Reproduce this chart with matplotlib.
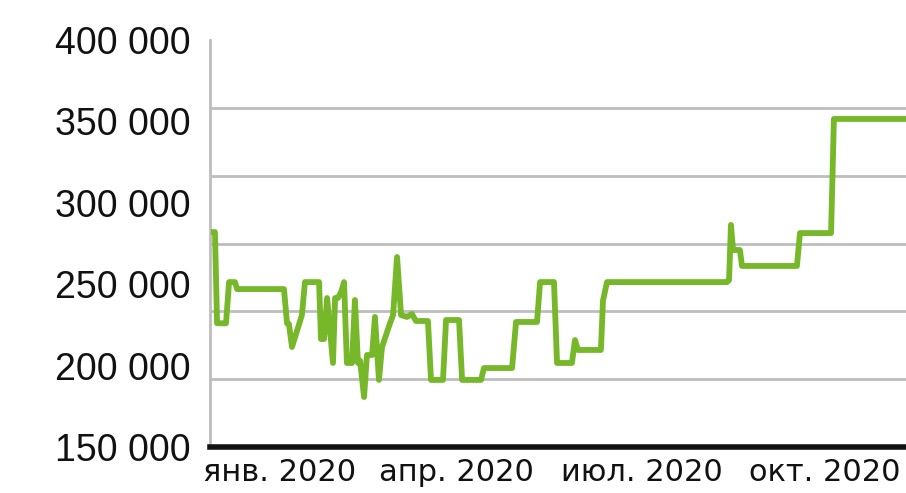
import matplotlib
matplotlib.use("Agg")
import matplotlib.pyplot as plt
from matplotlib.ticker import FixedLocator, FuncFormatter

# день года (0 = 1 янв. 2020) и значение
days = [0.5, 2.6, 3.7, 8.4, 10.0, 13.1, 14.2, 38.8, 40.4, 41.4, 43.0, 48.2, 49.8,
        57.2, 58.2, 59.8, 61.4, 64.5, 65.6, 67.1, 68.7, 70.3, 71.8, 74.5, 76.0,
        77.6, 78.7, 80.8, 82.3, 85.0, 86.5, 88.6, 90.2, 94.4, 96.0, 98.1, 100.2,
        103.3, 105.9, 108.0, 114.3, 115.9, 122.2, 123.8, 130.6, 132.2, 142.1,
        143.7, 158.4, 160.5, 171.5, 173.1, 180.4, 182.0, 189.8, 191.4, 193.0,
        205.0, 206.1, 208.2, 271.1, 272.2, 273.2, 274.3, 277.9, 279.0, 307.8,
        309.4, 325.7, 327.2, 365.0]
values = [282000, 282000, 226000, 226000, 251300, 251300, 247000, 247000, 226000,
          225500, 211400, 231000, 251300, 251300, 216300, 216300, 241500, 201600,
          241500, 241500, 245000, 251300, 201600, 201600, 240300, 201600, 203000,
          180700, 206500, 206500, 229900, 191200, 211400, 226000, 231000, 266700,
          231000, 229900, 231700, 227400, 227400, 191200, 191200, 228000, 228000,
          191200, 191200, 198500, 198500, 226800, 226800, 251300, 251300, 201600,
          201600, 215700, 209600, 209600, 240000, 251300, 251300, 252500, 286400,
          271000, 271000, 261200, 261200, 281400, 281400, 351500, 351500]

month_labels = ["янв. 2020", "апр. 2020", "июл. 2020", "окт. 2020"]
month_pos = [36.7, 129.5, 226.5, 322.5]
y_labels = [150000, 200000, 250000, 300000, 350000, 400000]

fig = plt.figure(figsize=(9.06, 4.93), dpi=100)
ax = fig.add_axes([210 / 906, 1 - 447 / 493, 696 / 906, 407 / 493])

ax.plot(days, values, color="#77b82b", lw=4.2, solid_joinstyle="round",
        solid_capstyle="butt", zorder=3, clip_on=False)

ax.set_xlim(0, 365)
ax.set_ylim(150000, 400000)

# подписи оси Y
ax.yaxis.set_major_locator(FixedLocator(y_labels))
ax.yaxis.set_major_formatter(FuncFormatter(lambda v, p: f"{int(v):,}".replace(",", " ")))
# линии сетки идут с другим шагом
ax.yaxis.set_minor_locator(FixedLocator([150000 + k * 250000 / 6 for k in range(7)]))
ax.grid(False)
ax.grid(True, axis="y", which="minor", color="#bdbdbd", lw=2)
ax.tick_params(axis="y", which="both", length=0, pad=14)
for t in ax.get_yticklabels():
    t.set_fontfamily("Liberation Sans")
    t.set_fontsize(27)
    t.set_color("#111111")

ax.set_xticks(month_pos)
ax.set_xticklabels(month_labels, fontsize=22, family="DejaVu Sans", color="#111111")
ax.tick_params(axis="x", length=0, pad=8)

for s in ["top", "right"]:
    ax.spines[s].set_visible(False)
ax.spines["left"].set_color("#bdbdbd")
ax.spines["left"].set_linewidth(2)
ax.spines["bottom"].set_color("#111111")
ax.spines["bottom"].set_linewidth(4)
ax.spines["bottom"].set_zorder(4)

fig.savefig("out.png", dpi=100)
